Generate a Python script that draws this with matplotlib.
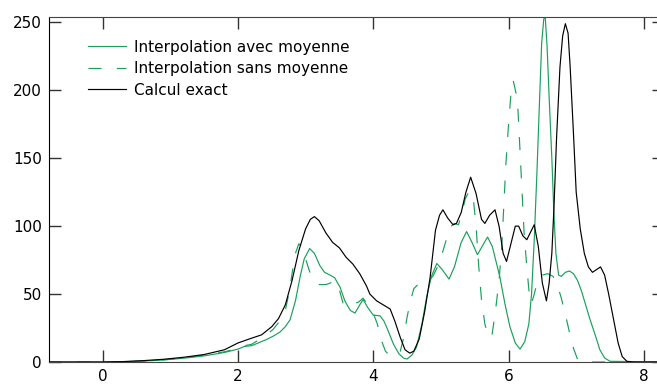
import matplotlib
matplotlib.use("Agg")
import matplotlib.pyplot as plt

# Calcul exact (black)
exact_x = [-0.8, 0.0, 0.3, 0.6, 0.9, 1.2, 1.5, 1.8, 2.0, 2.2, 2.35, 2.5, 2.6, 2.7, 2.8, 2.9,
           3.0, 3.07, 3.13, 3.2, 3.3, 3.4, 3.5, 3.6, 3.7, 3.8, 3.9, 3.95, 4.05, 4.15, 4.25,
           4.32, 4.4, 4.47, 4.54, 4.6, 4.68, 4.76, 4.84, 4.92, 4.98, 5.03, 5.1, 5.18, 5.23,
           5.3, 5.37, 5.44, 5.52, 5.6, 5.65, 5.72, 5.8, 5.86, 5.92, 5.97, 6.03, 6.1, 6.15,
           6.21, 6.27, 6.33, 6.38, 6.44, 6.5, 6.56, 6.6, 6.64, 6.67, 6.71, 6.76, 6.8, 6.84,
           6.88, 6.91, 6.96, 7.0, 7.06, 7.12, 7.18, 7.24, 7.3, 7.36, 7.42, 7.48, 7.55, 7.62,
           7.68, 7.75, 7.85, 8.3]
exact_y = [0, 0, 0.3, 1, 2, 3.5, 5.5, 9, 14, 17.5, 20, 26, 32, 42, 60, 82,
           98, 105, 107, 104, 95, 88, 84, 77, 72, 65, 56, 50, 45, 42, 39,
           30, 18, 9, 6.5, 8, 17, 37, 62, 97, 108, 112, 106, 101, 102,
           110, 125, 136, 124, 105, 102, 108, 112, 100, 80, 74, 86, 100, 100,
           93, 90, 96, 101, 85, 58, 45, 58, 80, 112, 165, 217, 240, 249,
           242, 218, 168, 125, 98, 80, 70, 66, 68, 70, 64, 50, 32, 14,
           4, 0.5, 0, 0]

# Interpolation avec moyenne (solid green)
avec_x = [-0.8, 0.0, 0.3, 0.6, 0.9, 1.2, 1.5, 1.8, 2.0, 2.1, 2.2, 2.3, 2.42, 2.52, 2.62, 2.7,
          2.77, 2.85, 2.92, 2.98, 3.06, 3.13, 3.21, 3.28, 3.36, 3.43, 3.51, 3.58, 3.66, 3.73,
          3.8, 3.85, 3.92, 4.0, 4.1, 4.16, 4.22, 4.3, 4.38, 4.45, 4.5, 4.57, 4.64, 4.72, 4.79,
          4.86, 4.94, 5.02, 5.12, 5.2, 5.3, 5.38, 5.46, 5.54, 5.62, 5.69, 5.76, 5.87, 5.95,
          6.02, 6.1, 6.17, 6.24, 6.3, 6.34, 6.38, 6.42, 6.46, 6.49, 6.52, 6.54, 6.57, 6.6,
          6.64, 6.67, 6.7, 6.74, 6.78, 6.84, 6.9, 6.96, 7.02, 7.08, 7.14, 7.2, 7.28, 7.35,
          7.42, 7.5, 8.3]
avec_y = [0, 0, 0.2, 0.7, 1.5, 2.8, 4.5, 7, 9.5, 11.5, 12, 14, 16.5, 19, 22, 26,
          31, 45, 63, 76, 83.5, 80, 71, 66, 64, 62, 55, 45, 38, 36,
          42, 46, 40, 34.5, 34, 30, 23, 13, 6, 2.8, 2.2, 5, 11, 28, 48,
          63, 72.5, 68, 61, 70, 88, 96, 88, 79, 86, 92, 85, 63, 42,
          26, 14, 9.5, 15, 28, 50, 90, 140, 195, 235, 252, 256, 232, 195,
          150, 110, 80, 64, 63, 66, 67, 65, 60, 52, 42, 32, 20, 9,
          3, 0.5, 0]

# Interpolation sans moyenne (dashed green)
sans_x = [-0.8, 0.0, 0.3, 0.6, 0.9, 1.2, 1.5, 1.8, 2.0, 2.1, 2.2, 2.3, 2.42, 2.52, 2.6, 2.7,
          2.76, 2.8, 2.85, 2.9, 2.94, 3.0, 3.05, 3.11, 3.2, 3.3, 3.36, 3.43, 3.5, 3.56, 3.62,
          3.7, 3.78, 3.85, 3.92, 4.0, 4.06, 4.12, 4.18, 4.26, 4.33, 4.4, 4.45, 4.5, 4.55, 4.6,
          4.66, 4.72, 4.8, 4.88, 4.95, 5.02, 5.08, 5.13, 5.2, 5.26, 5.3, 5.36, 5.42, 5.48,
          5.52, 5.56, 5.6, 5.65, 5.7, 5.75, 5.8, 5.86, 5.9, 5.93, 5.96, 6.0, 6.04, 6.07,
          6.11, 6.14, 6.17, 6.2, 6.23, 6.27, 6.31, 6.34, 6.38, 6.43, 6.5, 6.58, 6.66, 6.72,
          6.78, 6.84, 6.9, 6.96, 7.02, 7.1, 8.3]
sans_y = [0, 0, 0.2, 0.7, 1.6, 3, 5, 7.5, 10, 12, 13, 16, 20, 24, 29, 38,
          52, 65, 80, 87, 85, 76, 68, 60, 57, 57, 58, 60, 53, 42, 41,
          43, 44, 47, 42, 36, 28, 16, 8, 4, 5, 8, 18, 33, 45, 54,
          57, 57.5, 59, 63, 70, 80, 90, 99, 102, 101, 108, 120, 126, 120,
          100, 70, 46, 28, 19, 18, 35, 60, 85, 115, 145, 175, 200, 207,
          198, 185, 155, 125, 95, 70, 48, 43, 50, 60, 64, 65, 63, 57,
          47, 35, 22, 10, 2, 0, 0]

x_ticks = [0, 2, 4, 6, 8]
y_ticks = [0, 50, 100, 150, 200, 250]

green = "#1a9f5b"
plt.rcParams["font.family"] = ["DejaVu Sans"]

fig = plt.figure(figsize=(6.57, 3.85), dpi=100)
ax = fig.add_axes([49 / 657, 23 / 385, 615 / 657, 344.7 / 385])

ax.plot(avec_x, avec_y, color=green, lw=0.85, label="Interpolation avec moyenne")
ax.plot(sans_x, sans_y, color=green, lw=0.85, dashes=(11, 13),
        label="Interpolation sans moyenne")
ax.plot(exact_x, exact_y, color="black", lw=0.85, label="Calcul exact")

ax.set_xlim(-0.793, 8.298)
ax.set_ylim(0, 253.7)
ax.set_xticks(x_ticks)
ax.set_yticks(y_ticks)
ax.tick_params(direction="in", length=8.6, width=1, top=True, right=True,
               labelsize=11, color="#333333", pad=5)
for side in ["top", "bottom", "right"]:
    ax.spines[side].set_color("#444444")
ax.spines["left"].set_color("black")

ax.legend(loc="upper left", bbox_to_anchor=(0.063, 0.935), frameon=False,
          fontsize=11, handlelength=2.5, handletextpad=0.55, labelspacing=0.42,
          borderpad=0, borderaxespad=0)

fig.savefig("out.png", dpi=100)
